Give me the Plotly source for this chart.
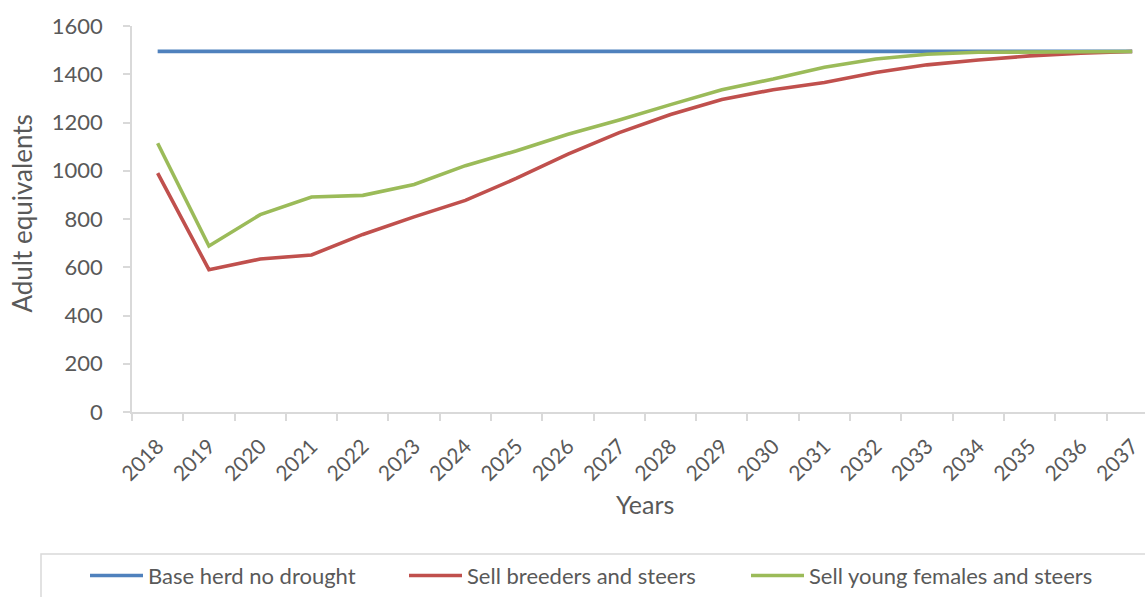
import plotly.graph_objects as go

# Herd size (adult equivalents) by year under each drought strategy
years = [str(y) for y in range(2018, 2038)]
base_herd = [1495] * 20
sell_breeders = [990, 590, 634, 651, 736, 809, 877, 969, 1069, 1158,
                 1233, 1295, 1336, 1366, 1407, 1439, 1459, 1476, 1487, 1494]
sell_young = [1114, 688, 818, 891, 898, 943, 1021, 1083, 1151, 1210,
              1274, 1336, 1380, 1429, 1463, 1483, 1491, 1493, 1494, 1494]

series_names = ["Base herd no drought", "Sell breeders and steers",
                "Sell young females and steers"]
colors = ["#4F81BD", "#C0504D", "#9BBB59"]

FONT = "Lato"
GREY = "#595959"
AXIS = "#D9D9D9"

fig = go.Figure()
for i, (name, vals) in enumerate(zip(series_names, [base_herd, sell_breeders, sell_young])):
    fig.add_trace(go.Scatter(
        x=years, y=vals, mode="lines", name=name,
        line=dict(color=colors[i], width=3.6),
        legend="legend" if i == 0 else f"legend{i + 1}",
    ))

W, H = 1145, 597
L, R, T, B = 132, 0, 26, 182
pw, ph = W - L - R, H - T - B


def px_x(px):
    return (px - L) / pw


def px_y(py):
    return (H - B - py) / ph


legend_common = dict(
    orientation="h", xanchor="left", yanchor="middle", y=px_y(580),
    font=dict(family=FONT, size=22, color=GREY), bgcolor="rgba(0,0,0,0)",
    borderwidth=0, itemwidth=53, itemclick=False,
)

fig.update_layout(
    width=W, height=H,
    margin=dict(l=L, r=R, t=T, b=B),
    paper_bgcolor="white", plot_bgcolor="white",
    font=dict(family=FONT, color=GREY),
    xaxis=dict(
        type="category", range=[-0.5, 19.25], tickson="boundaries",
        showline=True, linecolor=AXIS, linewidth=1.5,
        ticks="outside", ticklen=7, tickcolor=AXIS, tickwidth=1.5,
        showgrid=False, zeroline=False, tickangle=-45, ticklabelstandoff=12,
        tickfont=dict(family=FONT, size=21, color=GREY),
    ),
    yaxis=dict(
        range=[0, 1600], dtick=200, showline=True, linecolor=AXIS, linewidth=1.5,
        ticks="outside", ticklen=7, tickcolor=AXIS, tickwidth=1.5,
        showgrid=False, zeroline=False, ticklabelstandoff=16,
        tickfont=dict(family=FONT, size=22, color=GREY),
    ),
    legend=dict(x=px_x(85), **legend_common),
    legend2=dict(x=px_x(404), **legend_common),
    legend3=dict(x=px_x(746), **legend_common),
    showlegend=True,
    annotations=[
        dict(text="Adult equivalents", xref="paper", yref="paper",
             x=px_x(22), y=px_y(215), textangle=-90, showarrow=False,
             xanchor="center", yanchor="middle",
             font=dict(family=FONT, size=26, color=GREY)),
        dict(text="Years", xref="paper", yref="paper",
             x=px_x(645), y=px_y(508), showarrow=False,
             xanchor="center", yanchor="middle",
             font=dict(family=FONT, size=25, color=GREY)),
    ],
    shapes=[
        dict(type="rect", xref="paper", yref="paper",
             x0=px_x(41), x1=px_x(1160), y0=px_y(558), y1=px_y(610),
             line=dict(color=AXIS, width=1.5), fillcolor="rgba(0,0,0,0)"),
    ],
)

fig.write_html("out.html")
